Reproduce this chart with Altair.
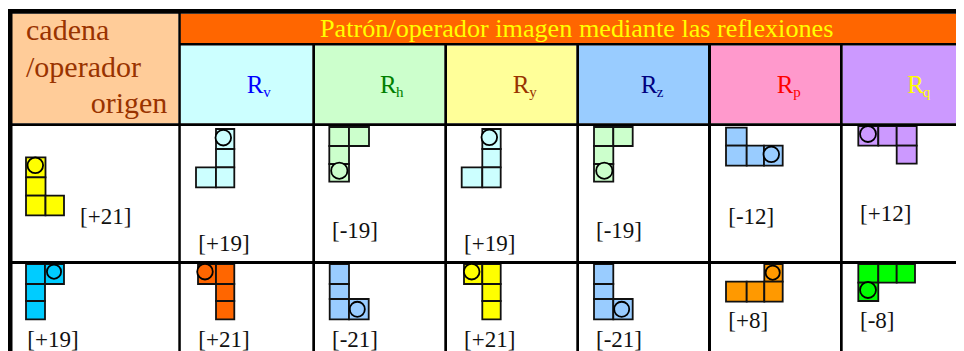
import altair as alt
import pandas as pd

FONT = "Liberation Serif"

# table structure, read in picture pixels
header_fills = [
    (12, 178.3, 13.7, 123.3, "#FFCC99"),
    (180.3, 964, 13.7, 43, "#FF6600"),
    (180.3, 312.3, 45.5, 123.3, "#CCFFFF"),
    (315, 444.3, 45.5, 123.3, "#CCFFCC"),
    (447, 576.3, 45.5, 123.3, "#FFFF99"),
    (579, 708, 45.5, 123.3, "#99CCFF"),
    (711, 840, 45.5, 123.3, "#FF99CC"),
    (842.7, 964, 45.5, 123.3, "#CC99FF"),
]
grid_lines = [
    (8, 964, 9, 13.7),
    (180, 964, 43, 45.5),
    (8, 964, 123.3, 126),
    (8, 964, 261, 264),
    (8, 12.5, 9, 351),
    (178.3, 180.8, 13, 351),
    (312.3, 315, 43, 351),
    (444.3, 447, 43, 351),
    (576.3, 579, 43, 351),
    (708, 711, 43, 351),
    (840, 842.7, 43, 351),
]

# pieces: column edges, row edges, occupied cells, ring centre, ring radius, colour
pieces = [
    ([26, 45.5, 64], [157.3, 177.3, 195.7, 215.3], [(0, 0), (0, 1), (0, 2), (1, 2)], (35.3, 165.3), 8.8, "#FFFF00"),
    ([196, 216, 234.3], [129, 149, 167.3, 187.3], [(1, 0), (1, 1), (0, 2), (1, 2)], (223.3, 137.7), 8.8, "#CCFFFF"),
    ([329.3, 349, 369], [127, 146, 164, 181.7], [(0, 0), (1, 0), (0, 1), (0, 2)], (339.3, 170.7), 9.2, "#CCFFCC"),
    ([461.7, 482.3, 500.7], [129, 149, 167.3, 187.3], [(1, 0), (1, 1), (0, 2), (1, 2)], (489.3, 137.3), 8.8, "#CCFFFF"),
    ([594, 613.3, 632.7], [127, 146, 164, 181.7], [(0, 0), (1, 0), (0, 1), (0, 2)], (604.3, 170.7), 9.2, "#CCFFCC"),
    ([726, 746.7, 764, 782.7], [127.7, 145.7, 165.7], [(0, 0), (0, 1), (1, 1), (2, 1)], (771.3, 154.3), 8.8, "#99CCFF"),
    ([858.3, 878.3, 896.7, 916.7], [126, 145.7, 163.7], [(0, 0), (1, 0), (2, 0), (2, 1)], (868, 134), 9, "#CC99FF"),
    ([26, 45, 64], [264, 284, 301, 319.3], [(0, 0), (1, 0), (0, 1), (0, 2)], (54, 271.7), 8, "#00CCFF"),
    ([198, 216, 234.3], [264, 284, 301, 319.3], [(0, 0), (1, 0), (1, 1), (1, 2)], (205, 271.7), 8.8, "#FF6600"),
    ([329.7, 349, 368.7], [264, 284, 299, 319.3], [(0, 0), (0, 1), (0, 2), (1, 2)], (357.3, 309.3), 8.5, "#99CCFF"),
    ([464, 482.3, 500.7], [264, 284, 301, 319.3], [(0, 0), (1, 0), (1, 1), (1, 2)], (471.7, 271.7), 8.8, "#FFFF00"),
    ([594, 613.3, 632.7], [264, 284, 299, 319.3], [(0, 0), (0, 1), (0, 2), (1, 2)], (621.7, 309.3), 8.5, "#99CCFF"),
    ([726, 746.7, 764.3, 782.7], [264, 281.7, 301.7], [(2, 0), (0, 1), (1, 1), (2, 1)], (772.7, 272.7), 8, "#FF9900"),
    ([858.3, 878.3, 896.7, 915], [264, 282.7, 301], [(0, 0), (1, 0), (2, 0), (0, 1)], (868, 290), 9, "#00FF00"),
]

# texts: label, x, baseline, size, colour
texts = [
    ("cadena", 26, 40, 30, "#993300"),
    ("/operador", 26, 77, 30, "#993300"),
    ("origen", 90.7, 113, 30, "#993300"),
    ("Patrón/operador imagen mediante las reflexiones", 320, 36.7, 26.2, "#FFFF00"),
    ("R", 246.7, 93, 25, "#0000FF"), ("v", 263.3, 96.7, 15, "#0000FF"),
    ("R", 380, 93, 25, "#008000"), ("h", 396, 96.7, 15, "#008000"),
    ("R", 512.7, 93, 25, "#993300"), ("y", 529.3, 96.7, 15, "#993300"),
    ("R", 640.7, 93, 25, "#000080"), ("z", 656.7, 96.7, 15, "#000080"),
    ("R", 776.7, 93, 25, "#FF0000"), ("p", 793.3, 96.7, 15, "#FF0000"),
    ("R", 907.3, 93, 25, "#FFFF00"), ("q", 922.7, 96.7, 15, "#FFFF00"),
    ("[+21]", 80, 224, 23, "#111111"),
    ("[+19]", 198.3, 251, 23, "#111111"),
    ("[-19]", 332, 238, 23, "#111111"),
    ("[+19]", 464, 251, 23, "#111111"),
    ("[-19]", 596, 238, 23, "#111111"),
    ("[-12]", 728.3, 224.3, 23, "#111111"),
    ("[+12]", 860, 220.7, 23, "#111111"),
    ("[+19]", 27.3, 346.7, 23, "#111111"),
    ("[+21]", 198.3, 346.7, 23, "#111111"),
    ("[-21]", 332, 346.7, 23, "#111111"),
    ("[+21]", 464, 346.7, 23, "#111111"),
    ("[-21]", 596, 346.7, 23, "#111111"),
    ("[+8]", 728.3, 327.7, 23, "#111111"),
    ("[-8]", 860, 327.7, 23, "#111111"),
]

fills_df = pd.DataFrame(header_fills, columns=["x", "x2", "y", "y2", "c"])
lines_df = pd.DataFrame(grid_lines, columns=["x", "x2", "y", "y2"])
cells_df = pd.DataFrame(
    [
        dict(x=xs[i], x2=xs[i + 1], y=ys[j], y2=ys[j + 1], c=col)
        for xs, ys, cells, _, _, col in pieces
        for i, j in cells
    ]
)
rings_df = pd.DataFrame(
    [dict(x=cen[0], y=cen[1], s=3.14159 * r * r, c=col) for _, _, _, cen, r, col in pieces]
)
texts_df = pd.DataFrame(texts, columns=["t", "x", "y", "s", "c"])

W, H = 948, 343
X = alt.X("x:Q", axis=None, scale=alt.Scale(domain=[8, 956], range=[0, W], nice=False, zero=False))
Y = alt.Y("y:Q", axis=None, scale=alt.Scale(domain=[8, 351], range=[0, H], nice=False, zero=False))
C = alt.Color("c:N", scale=None, legend=None)

fills = alt.Chart(fills_df).mark_rect().encode(x=X, x2="x2:Q", y=Y, y2="y2:Q", color=C)
cells = alt.Chart(cells_df).mark_rect(stroke="#111111", strokeWidth=1.8).encode(x=X, x2="x2:Q", y=Y, y2="y2:Q", color=C)
rings = alt.Chart(rings_df).mark_point(filled=True, shape="circle", opacity=1, stroke="#000000", strokeWidth=1.8).encode(
    x=X, y=Y, color=C, size=alt.Size("s:Q", scale=None, legend=None)
)
lines = alt.Chart(lines_df).mark_rect(color="#000000").encode(x=X, x2="x2:Q", y=Y, y2="y2:Q")
labels = alt.Chart(texts_df).mark_text(align="left", baseline="alphabetic", font=FONT).encode(
    x=X, y=Y, text="t:N", color=C, size=alt.Size("s:Q", scale=None, legend=None)
)

chart = (
    alt.layer(fills, cells, rings, lines, labels)
    .resolve_scale(color="independent", size="independent")
    .properties(width=W, height=H, padding=0, autosize=alt.AutoSizeParams(type="none"), background="#FFFFFF")
    .configure_view(stroke=None)
)
chart.save("out.html", embed_options={"renderer": "svg", "actions": False})
